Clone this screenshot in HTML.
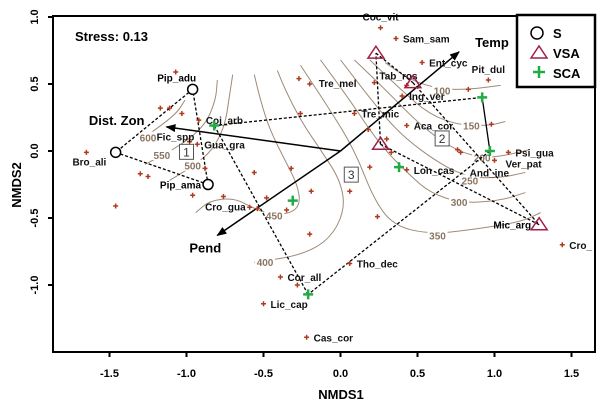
<!DOCTYPE html>
<html><head><meta charset="utf-8"><style>
body{margin:0;background:#fff}
svg{display:block;font-family:"Liberation Sans",Arial,sans-serif;font-weight:bold}
</style></head><body>
<svg id="chart" width="600" height="403" viewBox="0 0 600 403" xmlns="http://www.w3.org/2000/svg">
<rect x="0" y="0" width="600" height="403" fill="#fff"/>
<g id="contours"></g>
<g id="hulls"></g>
<g id="arrows"></g>
<g id="species"></g>
<g id="groups"></g>
<g id="axes"></g>
<text x="75" y="41" font-size="13">Stress: 0.13</text>
<g>
<rect x="517" y="15" width="78" height="72" fill="#fff" stroke="#000" stroke-width="2.5"/>
<g><circle cx="537" cy="33" r="6" fill="#fff" stroke="#000" stroke-width="1.5"/><text x="553" y="38" font-size="13">S</text></g>
<g><polygon points="531,58 539,46 547,58" fill="none" stroke="#a0204a" stroke-width="1.5"/><text x="553" y="58" font-size="13">VSA</text></g>
<g><path d="M533,72h12M539,66v12" stroke="#22aa44" stroke-width="2.5"/><text x="553" y="78" font-size="13">SCA</text></g>
</g>
</svg>
<script>
// axis mapping
const X0=340.5, XS=154, Y0=151, YS=134;
function sx(v){return X0+XS*v;}
function sy(v){return Y0-YS*v;}
const NS='http://www.w3.org/2000/svg';
function mk(tag,attrs,parent){const e=document.createElementNS(NS,tag);for(const k in attrs)e.setAttribute(k,attrs[k]);parent.appendChild(e);return e;}

// ---- data ----
const xTicks=[-1.5,-1.0,-0.5,0.0,0.5,1.0,1.5];
const xTickLabels=['-1.5','-1.0','-0.5','0.0','0.5','1.0','1.5'];
const yTicks=[1.0,0.5,0.0,-0.5,-1.0];
const yTickLabels=['1.0','0.5','0.0','-0.5','-1.0'];

const speciesNames=['Coc_vit','Sam_sam','Ent_cyc','Pit_dul','Tab_ros','Ing_ver','Tre_mel','Tre_mic','Aca_cor','Lon_cas','And_ine','Psi_gua','Ver_pat','Cro_','Tho_dec','Cas_cor','Lic_cap','Cor_all','Cro_gua','Coj_arb','Gua_gra','Fic_spp','Bro_ali',
'','','','','','','','','','','','','','','','','','','','','','','','','','','','','',''];
const speciesX=[0.26,0.36,0.53,0.96,0.22,0.40,-0.20,0.09,0.43,0.43,0.78,1.09,1.00,1.44,0.06,-0.22,-0.50,-0.39,-0.59,-0.92,-0.93,-0.98,-1.65,
-1.07,-1.17,-1.11,-1.03,-1.30,-1.25,-0.88,-0.56,-0.32,-0.27,-0.96,-0.76,-1.46,-0.54,-0.48,-0.35,-0.28,-0.26,-0.19,0.19,0.06,0.24,-0.20,0.18,0.30,0.33,0.43,0.83,0.98,0.76,-0.26];
const speciesY=[0.92,0.84,0.66,0.53,0.51,0.41,0.50,0.28,0.19,-0.14,-0.01,-0.01,-0.07,-0.70,-0.84,-1.39,-1.14,-0.94,-0.42,0.23,0.05,0.07,-0.01,
0.59,0.32,0.32,0.28,-0.17,-0.19,-0.13,-0.16,-0.13,0.54,-0.33,-0.34,-0.41,-0.43,-0.35,-0.44,-1.00,0.28,-0.30,-0.12,-0.30,-0.49,-0.62,0.16,0.09,-0.01,0.49,0.46,0.20,0.01,0.54];

const groupNames=['Pip_adu','Bro_ali_S','Pip_ama','VSA1','VSA2','VSA3','Mic_arg','Coj_arb_SCA','SCA2','SCA3','SCA4','SCA5','SCA6'];
const groupType=['S','S','S','VSA','VSA','VSA','VSA','SCA','SCA','SCA','SCA','SCA','SCA'];
const groupX=[-0.96,-1.46,-0.86,0.23,0.47,0.26,1.29,-0.82,0.92,0.97,0.38,-0.31,-0.21];
const groupY=[0.46,-0.01,-0.25,0.73,0.51,0.05,-0.55,0.19,0.40,0.00,-0.12,-0.37,-1.07];
const groupLabels=['Pip_adu','','Pip_ama','','','','Mic_arg','','','','','',''];

const hullS=[0,1,2];
const hullVSA=[3,4,6,5];
const hullSCA=[7,8,9,12];

const vecNames=['Temp','Dist. Zon','Pend'];
const vecX=[0.77,-1.13,-0.80];
const vecY=[0.74,0.18,-0.63];

const contourLevels=[600,550,500,450,400,350,300,250,200,150,100];
const contourX=[
[-1.30,-1.07,-1.01],
[-1.27,-1.04,-0.88,-0.81,-0.80],
[-1.11,-0.94,-0.83,-0.75,-0.72,-0.70],
[-0.94,-0.85,-0.69,-0.56,-0.46,-0.33,-0.26,-0.28,-0.36,-0.46,-0.52,-0.56],
[-0.56,-0.26,-0.07,0.03,0.00,-0.13,-0.26,-0.36,-0.41],
[-0.26,-0.07,0.09,0.22,0.35,0.58,0.84,1.17,1.30],
[-0.13,0.06,0.26,0.45,0.58,0.78,1.04,1.20],
[0.00,0.20,0.39,0.65,0.84,1.04,1.20],
[0.09,0.29,0.52,0.74,0.91,1.04,1.23],
[0.19,0.39,0.58,0.78,0.97,1.07],
[0.29,0.45,0.65,0.84,1.04]];
const contourY=[
[0.08,0.27,0.38],
[-0.10,0.04,0.19,0.38,0.53],
[-0.22,-0.10,0.01,0.19,0.42,0.57],
[-0.46,-0.37,-0.35,-0.43,-0.47,-0.47,-0.40,-0.25,-0.07,0.16,0.38,0.57],
[-0.83,-0.78,-0.66,-0.44,-0.22,0.01,0.23,0.46,0.60],
[0.64,0.31,0.01,-0.37,-0.56,-0.62,-0.59,-0.53,-0.46],
[0.68,0.38,0.04,-0.18,-0.31,-0.39,-0.37,-0.31],
[0.68,0.38,0.12,-0.10,-0.20,-0.20,-0.16],
[0.68,0.46,0.19,0.01,-0.05,-0.04,0.01],
[0.68,0.46,0.27,0.19,0.19,0.22],
[0.66,0.53,0.46,0.46,0.49]];
const contourLabelX=[-1.25,-1.16,-0.96,-0.43,-0.49,0.63,0.77,0.84,0.92,0.85,0.66];
const contourLabelY=[0.10,-0.03,-0.11,-0.48,-0.83,-0.63,-0.38,-0.22,-0.05,0.19,0.45];

const clusterIds=['1','2','3'];
const clusterX=[-1.00,0.66,0.07];
const clusterY=[-0.01,0.09,-0.18];

// label placement styles (not data)
const spLabelStyle={Coc_vit:[0,-7,'middle'],Pit_dul:[0,-7,'middle'],Tab_ros:[5,-3,'start'],And_ine:[9,24,'start'],Fic_spp:[-33,-1,'start'],Bro_ali:[3,13,'middle'],Cro_gua:[-4,3,'end'],Ver_pat:[11,7,'start'],Tre_mel:[9,3,'start']};

// ---- draw ----
const cg=document.getElementById('contours');
contourLevels.forEach((lv,i)=>{
  const pts=contourX[i].map((x,j)=>[sx(x),sy(contourY[i][j])]);
  let d='M'+pts[0][0]+','+pts[0][1];
  for(let j=1;j<pts.length;j++){
    const p0=pts[j-1],p1=pts[j];
    const mx=(p0[0]+p1[0])/2,my=(p0[1]+p1[1])/2;
    d+=' Q'+p0[0]+','+p0[1]+' '+mx+','+my;
  }
  d+=' L'+pts[pts.length-1][0]+','+pts[pts.length-1][1];
  const p=mk('path',{d:d,fill:'none',stroke:'#9e8a78','stroke-width':1},cg);
  
  
  const lx=sx(contourLabelX[i]),ly=sy(contourLabelY[i]);
  const r=mk('rect',{x:lx-10,y:ly-6,width:20,height:11,fill:'#fff'},cg);
  
  
  const t=mk('text',{x:lx,y:ly+4,'font-size':10,fill:'#8a7462','text-anchor':'middle'},cg);
  t.textContent=lv;
  
  
});

const hg=document.getElementById('hulls');
function hull(idx,name,solidSeg){
  for(let k=0;k<idx.length;k++){
    const a=idx[k],b=idx[(k+1)%idx.length];
    const solid=solidSeg&&solidSeg[0]===a&&solidSeg[1]===b;
    const l=mk('line',{x1:sx(groupX[a]),y1:sy(groupY[a]),x2:sx(groupX[b]),y2:sy(groupY[b]),stroke:'#000','stroke-width':1.3,'stroke-dasharray':solid?'none':'3,2'},hg);
    
    
  }
}
hull(hullS,'hull-s');hull(hullVSA,'hull-vsa');hull(hullSCA,'hull-sca',[8,9]);

clusterIds.forEach((c,i)=>{
  const x=sx(clusterX[i]),y=sy(clusterY[i]);
  const r=mk('rect',{x:x-7,y:y-8,width:14,height:15,fill:'#fff',stroke:'#555','stroke-width':1},hg);
  
  
  const t=mk('text',{x:x,y:y+4,'font-size':12,'font-weight':'normal','text-anchor':'middle',fill:'#333'},hg);
  t.textContent=c;
  
  
});

const sg=document.getElementById('species');
speciesNames.forEach((n,i)=>{
  const x=sx(speciesX[i]),y=sy(speciesY[i]);
  const p=mk('path',{d:`M${x-2.5},${y}h5M${x},${y-2.5}v5`,stroke:'#b03a1e','stroke-width':1.5},sg);
  
  
  if(n){
    const st=spLabelStyle[n]||[7,4,'start'];
    const t=mk('text',{x:x+st[0],y:y+st[1],'font-size':10,'text-anchor':st[2],fill:'#111'},sg);
    t.textContent=n;
    
    
  }
});

const ag=document.getElementById('arrows');
mk('defs',{},ag).innerHTML='<marker id="ah" markerWidth="10" markerHeight="8" refX="9" refY="4" orient="auto" markerUnits="userSpaceOnUse"><path d="M0,0L10,4L0,8z" fill="#000"/></marker>';
const vecLabelStyle=[[16,-5,'start',13],[-22,-2,'end',13],[-12,17,'middle',13]];
vecNames.forEach((n,i)=>{
  const l=mk('line',{x1:sx(0),y1:sy(0),x2:sx(vecX[i]),y2:sy(vecY[i]),stroke:'#000','stroke-width':1.5,'marker-end':'url(#ah)'},ag);
  
  
  const s=vecLabelStyle[i];
  const t=mk('text',{x:sx(vecX[i])+s[0],y:sy(vecY[i])+s[1],'font-size':s[3],'text-anchor':s[2]},ag);
  t.textContent=n;
  
  
});

const gg=document.getElementById('groups');
const glStyle={Pip_adu:[-16,-8,'middle'],Pip_ama:[-7,4,'end'],Mic_arg:[-8,4,'end']};
groupNames.forEach((n,i)=>{
  const x=sx(groupX[i]),y=sy(groupY[i]);let e;
  if(groupType[i]==='S') e=mk('circle',{cx:x,cy:y,r:5,fill:'#fff',stroke:'#000','stroke-width':1.5},gg);
  else if(groupType[i]==='VSA') e=mk('polygon',{points:`${x-8},${y+5} ${x},${y-7} ${x+8},${y+5}`,fill:'none',stroke:'#a0204a','stroke-width':1.5},gg);
  else e=mk('path',{d:`M${x-5},${y}h10M${x},${y-5}v10`,stroke:'#22aa44','stroke-width':2.5},gg);
  
  
  if(groupLabels[i]){
    const s=glStyle[groupLabels[i]];
    const t=mk('text',{x:x+s[0],y:y+s[1],'font-size':10,'text-anchor':s[2]},gg);
    t.textContent=groupLabels[i];
    
    
  }
});

const ax=document.getElementById('axes');
const fr=mk('rect',{x:53,y:16,width:542,height:336,fill:'none',stroke:'#000','stroke-width':2},ax);


xTicks.forEach((v,i)=>{
  const x=sx(v);
  const l=mk('line',{x1:x,y1:352,x2:x,y2:357,stroke:'#000','stroke-width':2},ax);
  
  
  const t=mk('text',{x:x,y:377,'font-size':11,'text-anchor':'middle'},ax);
  t.textContent=xTickLabels[i];
  
  
});
yTicks.forEach((v,i)=>{
  const y=sy(v);
  const l=mk('line',{x1:48,y1:y,x2:53,y2:y,stroke:'#000','stroke-width':2},ax);
  
  
  const t=mk('text',{x:0,y:0,'font-size':11,'text-anchor':'middle',transform:`translate(38,${y}) rotate(-90)`},ax);
  t.textContent=yTickLabels[i];
  
  
});
const xt=mk('text',{x:341,y:399,'font-size':13,'text-anchor':'middle'},ax);
xt.textContent='NMDS1';


const yt=mk('text',{x:0,y:0,'font-size':13,'text-anchor':'middle',transform:'translate(21,185) rotate(-90)'},ax);
yt.textContent='NMDS2';


</script>
</body></html>
